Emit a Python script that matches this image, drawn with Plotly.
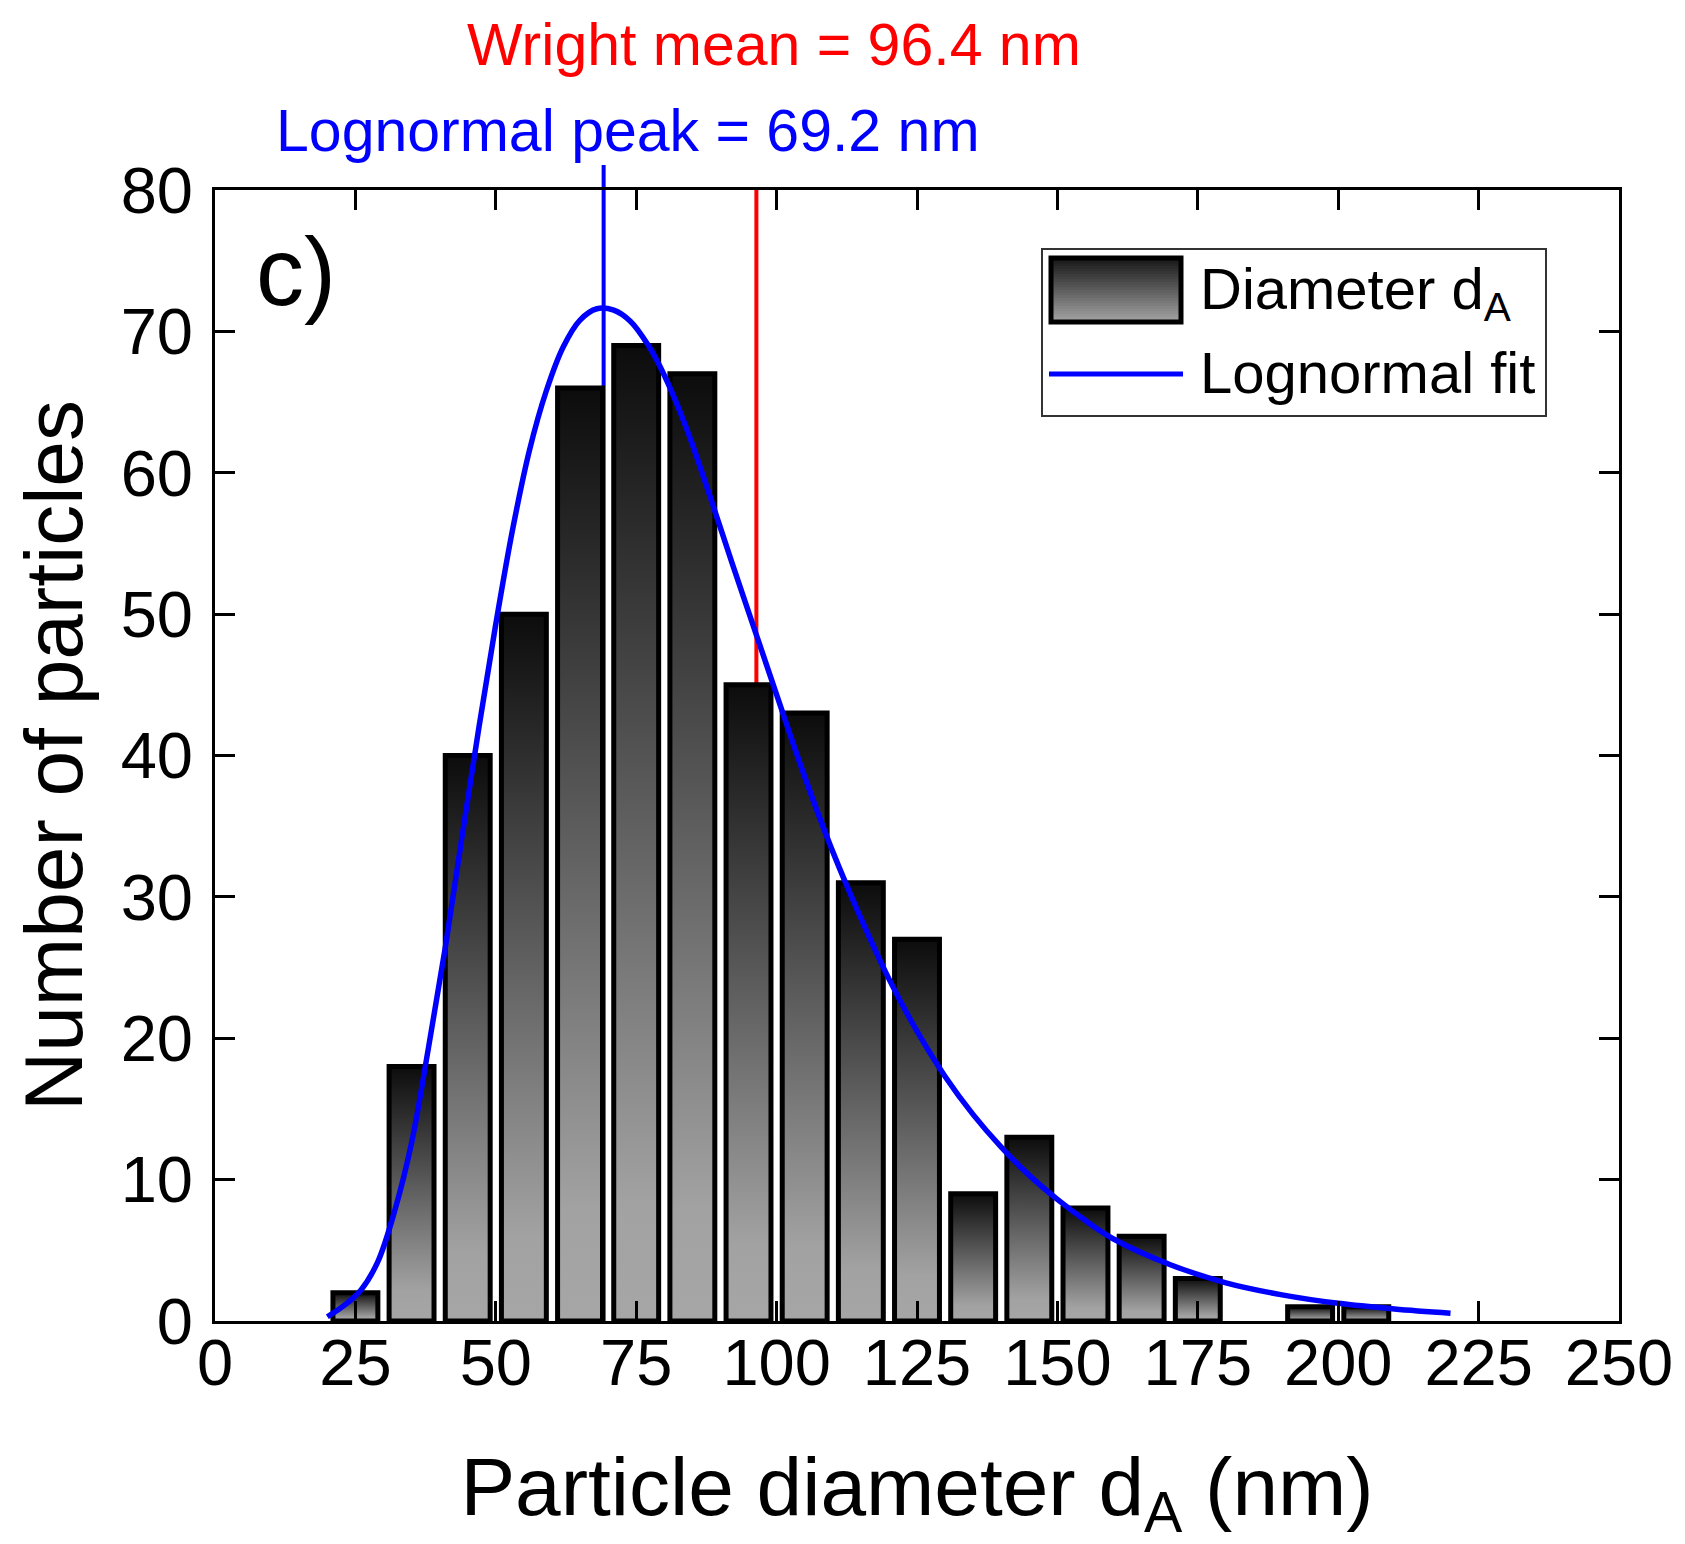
import plotly.graph_objects as go

# ---------------- data ----------------
bin_centers = [25, 35, 45, 55, 65, 75, 85, 95, 105, 115, 125, 135, 145, 155, 165, 175, 185, 195, 205]
counts = [2, 18, 40, 50, 66, 69, 67, 45, 43, 31, 27, 9, 13, 8, 6, 3, 0, 1, 1]
bar_width = 8

fit_x = [20, 23, 26, 29, 32, 35, 38, 41, 44, 47, 50, 53, 56, 59, 62, 65, 68, 71, 74, 77,
         80, 84, 88, 92, 96, 100, 105, 110, 115, 120, 125, 130, 135, 140, 145, 150, 155,
         160, 170, 180, 190, 200, 210, 220]
fit_y = [0.3, 1.1, 2.2, 4.2, 7.8, 12.6, 19.3, 26.4, 34.3, 42.0, 49.3, 56.0, 61.6, 65.8,
         68.9, 70.8, 71.6, 71.5, 70.7, 69.1, 66.9, 63.1, 58.5, 53.7, 49.0, 44.3, 38.5, 33.2,
         28.5, 24.2, 20.5, 17.3, 14.6, 12.3, 10.3, 8.6, 7.1, 5.8, 4.0, 2.7, 1.85, 1.25, 0.85,
         0.55]

wright_mean = 96.4
lognormal_peak = 69.2

x_ticks = [0, 25, 50, 75, 100, 125, 150, 175, 200, 225, 250]
y_ticks = [0, 10, 20, 30, 40, 50, 60, 70, 80]

# ---------------- layout geometry ----------------
W, H = 1685, 1544
L, R, T, B = 207, 74, 182, 231
PW, PH = W - L - R, H - T - B
FONT = "Liberation Sans, Arial, Helvetica, sans-serif"


def xp(px):
    return (px - L) / PW


def yp(py):
    return (H - B - py) / PH


fig = go.Figure()

bar_scale = [[0.0, "#a6a6a6"], [0.12, "#a2a2a2"], [1.0, "#0c0c0c"]]
half = bar_width / 2
for c, n in zip(bin_centers, counts):
    if n <= 0:
        continue
    fig.add_trace(go.Scatter(
        x=[c - half, c - half, c + half, c + half, c - half],
        y=[0, n, n, 0, 0],
        mode="lines",
        fill="toself",
        fillgradient=dict(type="vertical", colorscale=bar_scale),
        line=dict(color="black", width=5),
        showlegend=False,
        hoverinfo="skip",
        name="Diameter d<sub>A</sub>",
    ))

fig.add_trace(go.Scatter(
    x=fit_x, y=fit_y, mode="lines",
    line=dict(color="#0000ff", width=5.5, shape="spline", smoothing=1.0),
    name="Lognormal fit", showlegend=False,
))

shapes = [
    dict(type="line", xref="x", yref="paper", x0=lognormal_peak, x1=lognormal_peak,
         y0=0, y1=yp(157), line=dict(color="#0000ff", width=4), layer="below"),
    dict(type="line", xref="x", yref="paper", x0=wright_mean, x1=wright_mean,
         y0=0, y1=1, line=dict(color="#ff0000", width=4), layer="below"),
]

# custom legend
shapes.append(dict(type="rect", xref="paper", yref="paper", x0=xp(1034), x1=xp(1538),
                   y0=yp(408), y1=yp(241), line=dict(color="#333333", width=2),
                   fillcolor="white", layer="above"))
sw_x0, sw_x1, sw_top, sw_bot = 1043, 1173, 250, 314
nb = 24


def mix(a, b, t):
    return "#%02x%02x%02x" % tuple(int(round(a[i] + (b[i] - a[i]) * t)) for i in range(3))


for i in range(nb):
    t = i / (nb - 1)
    col = mix((0x18, 0x18, 0x18), (0xa2, 0xa2, 0xa2), t)
    y_a = sw_top + (sw_bot - sw_top) * i / nb
    y_b = sw_top + (sw_bot - sw_top) * (i + 1) / nb
    shapes.append(dict(type="rect", xref="paper", yref="paper", x0=xp(sw_x0), x1=xp(sw_x1),
                       y0=yp(y_b + 0.6), y1=yp(y_a), line=dict(width=0), fillcolor=col,
                       layer="above"))
shapes.append(dict(type="rect", xref="paper", yref="paper", x0=xp(sw_x0), x1=xp(sw_x1),
                   y0=yp(sw_bot), y1=yp(sw_top), line=dict(color="black", width=5),
                   fillcolor="rgba(0,0,0,0)", layer="above"))
shapes.append(dict(type="line", xref="paper", yref="paper", x0=xp(1041), x1=xp(1175),
                   y0=yp(366), y1=yp(366), line=dict(color="#0000ff", width=5), layer="above"))

annotations = [
    dict(text="Diameter d<sub>A</sub>", xref="paper", yref="paper", x=xp(1190), y=yp(246),
         xanchor="left", yanchor="top", showarrow=False, font=dict(size=58, color="black")),
    dict(text="Lognormal fit", xref="paper", yref="paper", x=xp(1190), y=yp(330),
         xanchor="left", yanchor="top", showarrow=False, font=dict(size=58, color="black")),
    dict(text="Wright mean = %.1f nm" % wright_mean, xref="paper", yref="paper",
         x=xp(766), y=yp(2), xanchor="center", yanchor="top", showarrow=False,
         font=dict(size=59, color="#ff0000")),
    dict(text="Lognormal peak = %.1f nm" % lognormal_peak, xref="paper", yref="paper",
         x=xp(620), y=yp(88), xanchor="center", yanchor="top", showarrow=False,
         font=dict(size=59, color="#0000ff")),
    dict(text="c)", xref="paper", yref="paper", x=xp(246), y=yp(208),
         xanchor="left", yanchor="top", showarrow=False, font=dict(size=96, color="black")),
]

axis_common = dict(
    showline=True, linewidth=3, linecolor="black", mirror="ticks",
    ticks="inside", ticklen=20, tickwidth=3, tickcolor="black",
    showgrid=False, zeroline=False,
    tickfont=dict(size=65, color="black", family=FONT),
)

fig.update_layout(
    width=W, height=H,
    margin=dict(l=L, r=R, t=T, b=B, pad=0),
    paper_bgcolor="white", plot_bgcolor="white",
    font=dict(family=FONT, color="black"),
    showlegend=False,
    shapes=shapes,
    annotations=annotations,
    xaxis=dict(range=[0, 250], tickvals=x_ticks, ticklabelstandoff=-17,
               title=dict(text="Particle diameter d<sub>A</sub> (nm)",
                          font=dict(size=82, family=FONT, color="black"), standoff=60),
               **axis_common),
    yaxis=dict(range=[0, 80], tickvals=y_ticks, ticklabelstandoff=6,
               title=dict(text="Number of particles",
                          font=dict(size=82, family=FONT, color="black"), standoff=14),
               **axis_common),
)

fig.write_html("out.html")
